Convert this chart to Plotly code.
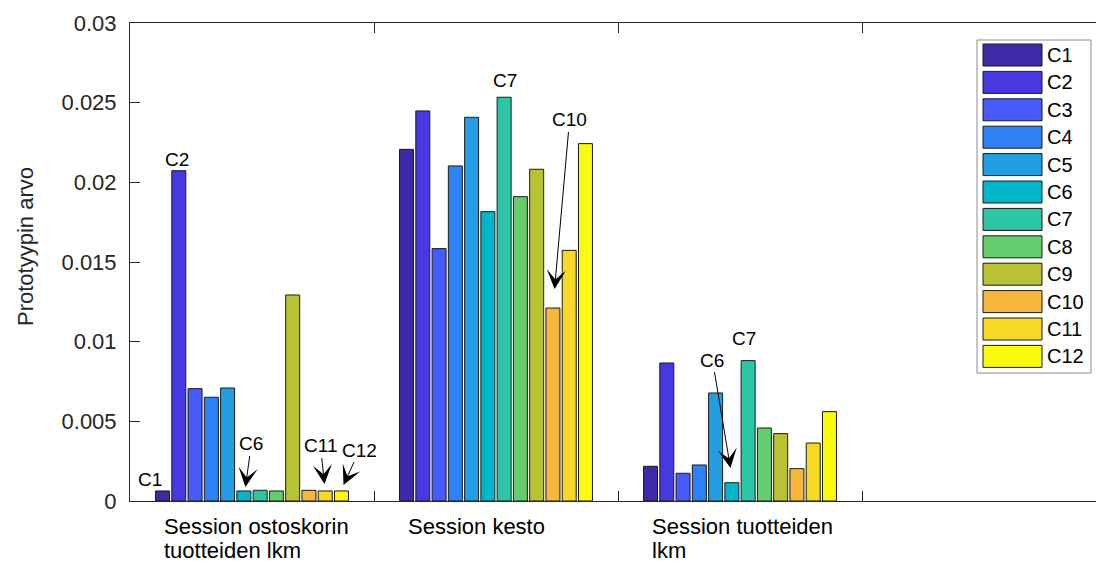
import plotly.graph_objects as go

# Feature groups on the x axis (numeric positions 1..3), one list per label line
group_labels_line1 = ["Session ostoskorin", "Session kesto", "Session tuotteiden"]
group_labels_line2 = ["tuotteiden lkm", "", "lkm"]
group_pos = [1, 2, 3]

# Cluster names and parula-like colours
cluster_names = ["C1", "C2", "C3", "C4", "C5", "C6", "C7", "C8", "C9", "C10", "C11", "C12"]
cluster_colors = ["#3D2AA9", "#4639E0", "#465BF9", "#2E82F5", "#239FE1", "#02B5C9",
                  "#2CC5A6", "#65CD6E", "#B8C233", "#F7B73D", "#F5D924", "#F9FA0E"]

# Prototype values per cluster for each feature
ostoskori_vals = [0.00063, 0.02073, 0.00705, 0.00651, 0.00709, 0.00063,
                  0.00067, 0.00063, 0.01293, 0.00067, 0.00063, 0.00063]
kesto_vals = [0.02207, 0.02448, 0.01584, 0.02103, 0.02408, 0.01816,
              0.02534, 0.01910, 0.02082, 0.01211, 0.01573, 0.02243]
tuotteet_vals = [0.00218, 0.00866, 0.00174, 0.00226, 0.00678, 0.00115,
                 0.00881, 0.00458, 0.00423, 0.00203, 0.00364, 0.00561]

y_ticks = [0, 0.005, 0.01, 0.015, 0.02, 0.025, 0.03]
y_tick_text = ["0", "0.005", "0.01", "0.015", "0.02", "0.025", "0.03"]

FONT = "Liberation Sans, Arial, Helvetica, sans-serif"
AXIS_COLOR = "#262626"

fig = go.Figure()
for i, name in enumerate(cluster_names):
    fig.add_trace(go.Bar(
        x=group_pos,
        y=[ostoskori_vals[i], kesto_vals[i], tuotteet_vals[i]],
        name=name,
        marker=dict(color=cluster_colors[i], line=dict(color="#1a1a1a", width=1)),
        showlegend=False,
    ))

annotations = []

# Category labels under each group (left aligned, two lines)
for pos, l1, l2 in zip(group_pos, group_labels_line1, group_labels_line2):
    for txt, shift in ((l1, -25), (l2, -49)):
        if not txt:
            continue
        annotations.append(dict(
            x=pos - 0.37, y=0, xref="x", yref="y", yshift=shift,
            text=txt, showarrow=False, xanchor="left", yanchor="middle", align="left",
            font=dict(family=FONT, size=22, color="#000000"),
        ))

# Plain cluster labels above bars
plain_labels = [
    ("C1", 0.580, 0.00138),
    ("C2", 0.693, 0.02146),
    ("C7", 2.035, 0.02642),
    ("C7", 3.018, 0.01017),
]
for txt, x, y in plain_labels:
    annotations.append(dict(
        x=x, y=y, xref="x", yref="y", text=txt, showarrow=False,
        xanchor="center", yanchor="middle",
        font=dict(family=FONT, size=19, color="#000000"),
    ))

# Arrow callouts: (text, tip x, tip y, text offset x px, text offset y px)
arrow_labels = [
    ("C6", 0.973, 0.00088, 6, -43),
    ("C11", 1.297, 0.00107, -4, -38),
    ("C12", 1.375, 0.00100, 16, -35),
    ("C10", 2.240, 0.01331, 15, -169),
    ("C6", 2.961, 0.00207, -18, -108),
]
for txt, x, y, ax, ay in arrow_labels:
    annotations.append(dict(
        x=x, y=y, xref="x", yref="y", text=txt, showarrow=True,
        ax=ax, ay=ay, axref="pixel", ayref="pixel",
        arrowhead=3, arrowsize=3.2, arrowwidth=1, arrowcolor="#000000",
        standoff=0, startstandoff=0,
        font=dict(family=FONT, size=19, color="#000000"),
    ))

# Plot area geometry in pixels, used for the legend and axis title
plot_left, plot_top, plot_w, plot_h = 130, 23, 966, 478

def px_to_paper(px, py):
    return (px - plot_left) / plot_w, (plot_top + plot_h - py) / plot_h

# Y axis title
tx, ty = px_to_paper(25, 247)
annotations.append(dict(x=tx, y=ty, xref="paper", yref="paper", text="Prototyypin arvo",
                        showarrow=False, textangle=-90, xanchor="center", yanchor="middle",
                        font=dict(family=FONT, size=22, color=AXIS_COLOR)))

# Legend box drawn in paper coordinates
shapes = []
lx0, ly0 = px_to_paper(977, 40)
lx1, ly1 = px_to_paper(1091, 373)
shapes.append(dict(type="rect", xref="paper", yref="paper", x0=lx0, y0=ly1, x1=lx1, y1=ly0,
                   line=dict(color="#8c8c8c", width=1), fillcolor="#ffffff", layer="above"))
for i, (name, col) in enumerate(zip(cluster_names, cluster_colors)):
    cy = 55 + i * 27.4
    sx0, sy0 = px_to_paper(983, cy - 11)
    sx1, sy1 = px_to_paper(1042, cy + 11)
    shapes.append(dict(type="rect", xref="paper", yref="paper", x0=sx0, y0=sy1, x1=sx1, y1=sy0,
                       line=dict(color="#1a1a1a", width=1), fillcolor=col, layer="above"))
    tx, ty = px_to_paper(1045, cy)
    annotations.append(dict(x=tx, y=ty, xref="paper", yref="paper", text=name, showarrow=False,
                            xanchor="left", yanchor="middle",
                            font=dict(family=FONT, size=20, color="#000000")))

fig.update_layout(
    width=1096, height=564,
    margin=dict(l=plot_left, r=0, t=plot_top, b=564 - plot_top - plot_h),
    paper_bgcolor="#ffffff", plot_bgcolor="#ffffff",
    barmode="group", bargap=0.2, bargroupgap=0.14,
    font=dict(family=FONT, size=22, color=AXIS_COLOR),
    annotations=annotations, shapes=shapes,
    xaxis=dict(
        range=[0.5, 0.5 + plot_w / 244.0],
        tickvals=[1.5, 2.5, 3.5, 4.5], showticklabels=False,
        ticks="inside", ticklen=10, tickwidth=1, tickcolor=AXIS_COLOR,
        showline=True, linecolor=AXIS_COLOR, linewidth=1, mirror="ticks",
        showgrid=False, zeroline=False,
    ),
    yaxis=dict(
        range=[0, 0.03], tickvals=y_ticks, ticktext=y_tick_text,
        ticks="inside", ticklen=10, tickwidth=1, tickcolor=AXIS_COLOR,
        ticklabelstandoff=8,
        showline=True, linecolor=AXIS_COLOR, linewidth=1, mirror=False,
        showgrid=False, zeroline=False,
        tickfont=dict(family=FONT, size=22, color=AXIS_COLOR),
    ),
)

fig.write_html("out.html")
